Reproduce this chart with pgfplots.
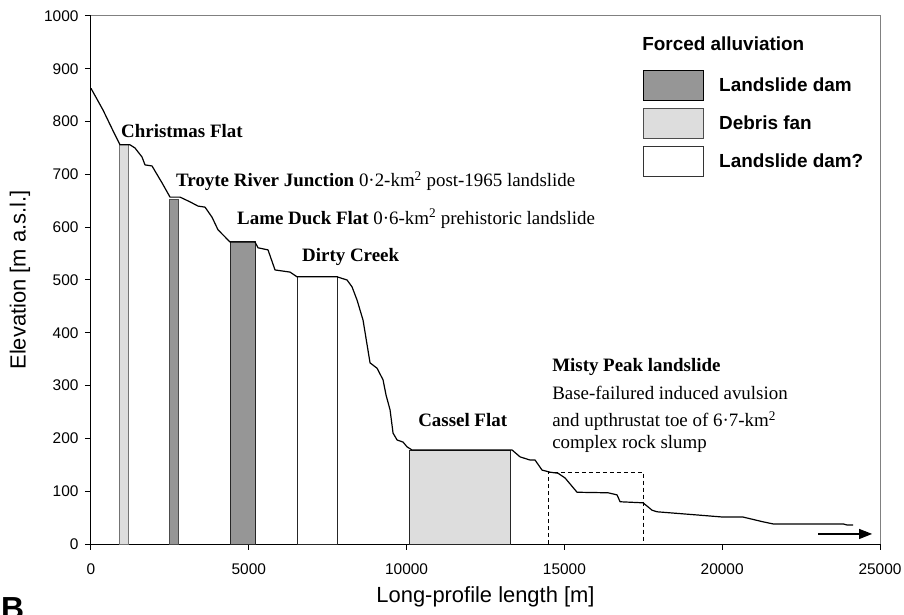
\documentclass[border=0pt]{standalone}
\usepackage{fontspec}
\setmainfont{Liberation Sans}
\newfontfamily\serif{Liberation Serif}
\usepackage{pgfplots}
\pgfplotsset{compat=1.18}
\usetikzlibrary{arrows.meta}
\definecolor{darkbar}{HTML}{969696}
\definecolor{lightbar}{HTML}{DDDDDD}

\pgfplotstableread{
x y
0 863
380 822
760 775
919 756
1236 756
1394 750
1616 733
1711 718
1933 716
2250 684
2504 657
2820 657
3137 648
3391 640
3613 638
3834 619
4025 595
4405 572
5197 572
5292 561
5609 557
5831 519
6306 515
6528 506
7796 506
8113 500
8271 487
8430 462
8620 424
8842 343
9063 333
9253 311
9349 282
9476 254
9571 210
9698 197
9888 193
10014 184
10173 178
13342 178
13595 165
13912 159
14070 159
14292 140
14546 136
14799 134
15021 125
15401 98
16384 97
16669 93
16764 80
17493 78
17778 64
17936 61
19204 55
20028 51
20662 51
21296 42
21613 38
23831 38
23958 36
24148 36
}\profile

\begin{document}
\begin{tikzpicture}
\begin{axis}[
  at={(0,0)}, anchor=south west,
  scale only axis, width=789bp, height=528bp,
  xmin=0, xmax=25000, ymin=0, ymax=1000,
  axis lines=left, axis line style={-, black, line width=1bp},
  xtick={0,5000,...,25000}, ytick={0,100,...,1000},
  tick align=outside, major tick length=6bp,
  tick style={black, line width=1bp},
  scaled x ticks=false,
  /pgf/number format/1000 sep={},
  /pgf/number format/assume math mode=true,
  tick label style={font=\fontsize{15.5}{18}\selectfont},
  xticklabel style={yshift=-10bp},
  yticklabel style={xshift=-3bp},
  every axis x label/.style={at={(axis description cs:0.5,-0.1004)}, anchor=center},
  every axis y label/.style={at={(axis description cs:-0.09,0.5)}, rotate=90, anchor=center},
  label style={font=\fontsize{22}{26}\selectfont},
  xlabel={Long-profile length [m]},
  ylabel={Elevation [m a.s.l.]},
  clip=false,
  legend cell align=left,
  legend style={at={(0.6996,0.8977)}, anchor=north west, draw=none, fill=none,
    inner sep=0pt, row sep=7bp,
    font=\fontsize{19}{22}\selectfont\bfseries,
    nodes={inner sep=0pt}},
  legend image code/.code={\draw[#1] (0bp,-15bp) rectangle (60bp,15bp); \path (75bp,0bp);},
]
% bars
\addplot[forget plot, fill=lightbar, draw=black!55, line width=1bp] coordinates {(900,0) (900,756) (1180,756) (1180,0)} -- cycle;
\addplot[forget plot, fill=darkbar, draw=black!70, line width=1bp] coordinates {(2500,0) (2500,652) (2770,652) (2770,0)} -- cycle;
\addplot[forget plot, fill=darkbar, draw=black!85, line width=1bp] coordinates {(4405,0) (4405,572) (5200,572) (5200,0)} -- cycle;
\addplot[forget plot, fill=white, draw=black!85, line width=1bp] coordinates {(6540,0) (6540,506) (7800,506) (7800,0)} -- cycle;
\addplot[forget plot, fill=lightbar, draw=black!85, line width=1bp] coordinates {(10100,0) (10100,178) (13300,178) (13300,0)} -- cycle;
% dashed box
\addplot[forget plot, black, line width=0.9bp, dash pattern=on 4bp off 3bp] coordinates {(14500,0) (14500,136) (17500,136) (17500,0)};
% profile
\addplot[forget plot, black, line width=1.2bp, line join=round] table[x=x, y=y] {\profile};
% arrow
\addplot[forget plot, black, line width=1.2bp, -{Triangle[length=13bp, width=10bp]}] coordinates {(23040,19) (24750,19)};
% legend
\addlegendimage{fill=darkbar, draw=black, line width=1bp}
\addlegendentry{Landslide dam}
\addlegendimage{fill=lightbar, draw=black!70, line width=1bp}
\addlegendentry{Debris fan}
\addlegendimage{fill=white, draw=black!80, line width=1bp}
\addlegendentry{Landslide dam?}
% annotations
\node[anchor=west, inner sep=0pt, font=\fontsize{19}{22}\selectfont\bfseries] at (axis cs:17461,947) {Forced alluviation};
\begin{scope}[every node/.style={anchor=west, inner sep=0pt, font=\serif\fontsize{19}{22}\selectfont}]
\node at (axis cs:950,782) {\bfseries Christmas Flat};
\node at (axis cs:2694,687) {\textbf{Troyte River Junction} 0·2-km\textsuperscript{2} post-1965 landslide};
\node at (axis cs:4627,616) {\textbf{Lame Duck Flat} 0·6-km\textsuperscript{2} prehistoric landslide};
\node at (axis cs:6687,544) {\bfseries Dirty Creek};
\node at (axis cs:10363,235) {\bfseries Cassel Flat};
\node at (axis cs:14609,336) {\bfseries Misty Peak landslide};
\node at (axis cs:14609,287) {Base-failured induced avulsion};
\node at (axis cs:14609,232) {and upthrustat toe of 6·7-km\textsuperscript{2}};
\node at (axis cs:14609,190) {complex rock slump};
\end{scope}
% gray frame top/right
\draw[gray, line width=1bp] (rel axis cs:0,1) -- (rel axis cs:1,1) -- (rel axis cs:1,0);
\end{axis}
\node[anchor=north west, inner sep=0pt, font=\fontsize{32}{36}\selectfont\bfseries] at (-90bp,-53bp) {B};
\pgfresetboundingbox
\useasboundingbox (-91bp,-71bp) rectangle (813bp,544bp);
\end{tikzpicture}
\end{document}
